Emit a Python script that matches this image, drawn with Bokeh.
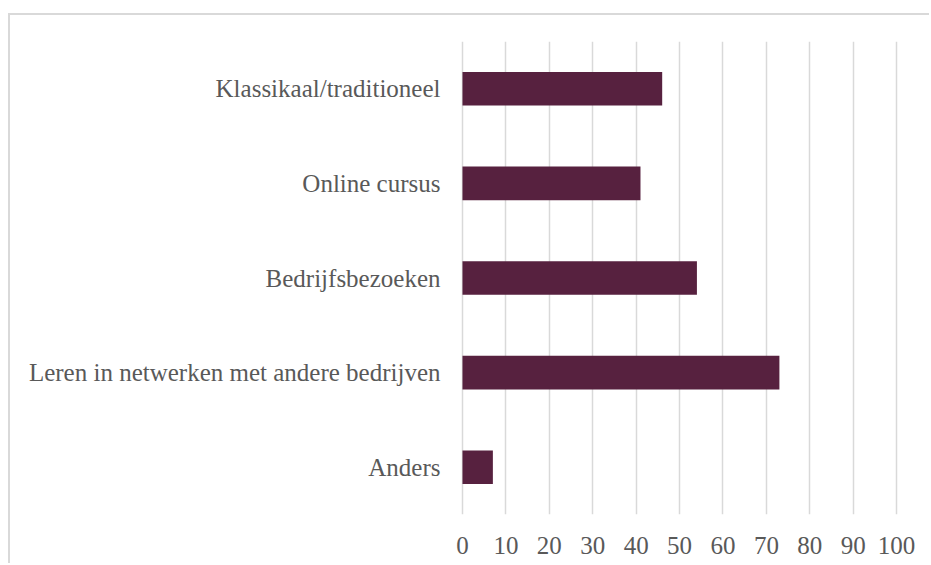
from bokeh.plotting import figure
from bokeh.models import Range1d, FactorRange, FixedTicker, ColumnDataSource
from bokeh.embed import file_html
from bokeh.resources import INLINE

categories = [
    "Klassikaal/traditioneel",
    "Online cursus",
    "Bedrijfsbezoeken",
    "Leren in netwerken met andere bedrijven",
    "Anders",
]
values = [46, 41, 54, 73, 7]
x_ticks = [0, 10, 20, 30, 40, 50, 60, 70, 80, 90, 100]

FONT = "Liberation Serif"
TEXT = "#595959"
GRID = "#d9d9d9"
BAR = "#57213F"

src = ColumnDataSource(dict(cat=categories, val=values))

p = figure(
    width=921, height=550,
    y_range=FactorRange(factors=categories[::-1], range_padding=0),
    x_range=Range1d(-2.3, 105.5),
    output_backend="svg", toolbar_location=None,
    min_border_left=442, min_border_right=11,
    min_border_top=26, min_border_bottom=51,
    margin=(13, 0, 0, 8),
    styles={"border-top": "2px solid #d9d9d9", "border-left": "2px solid #d9d9d9"},
)

p.hbar(y="cat", left=0, right="val", height=0.355, source=src,
       fill_color=BAR, line_color=None)

p.outline_line_color = None
p.ygrid.grid_line_color = None
p.xgrid.ticker = FixedTicker(ticks=x_ticks)
p.xgrid.grid_line_color = GRID
p.xgrid.grid_line_width = 1.5

p.xaxis.ticker = FixedTicker(ticks=x_ticks)
for ax in (p.xaxis, p.yaxis):
    ax.axis_line_color = None
    ax.major_tick_line_color = None
    ax.minor_tick_line_color = None
    ax.major_tick_in = 0
    ax.major_tick_out = 0
    ax.major_label_text_font = FONT
    ax.major_label_text_font_size = "25px"
    ax.major_label_text_color = TEXT
p.xaxis.major_label_standoff = 22
p.yaxis.major_label_standoff = 12

open("out.html", "w").write(file_html(p, INLINE))
